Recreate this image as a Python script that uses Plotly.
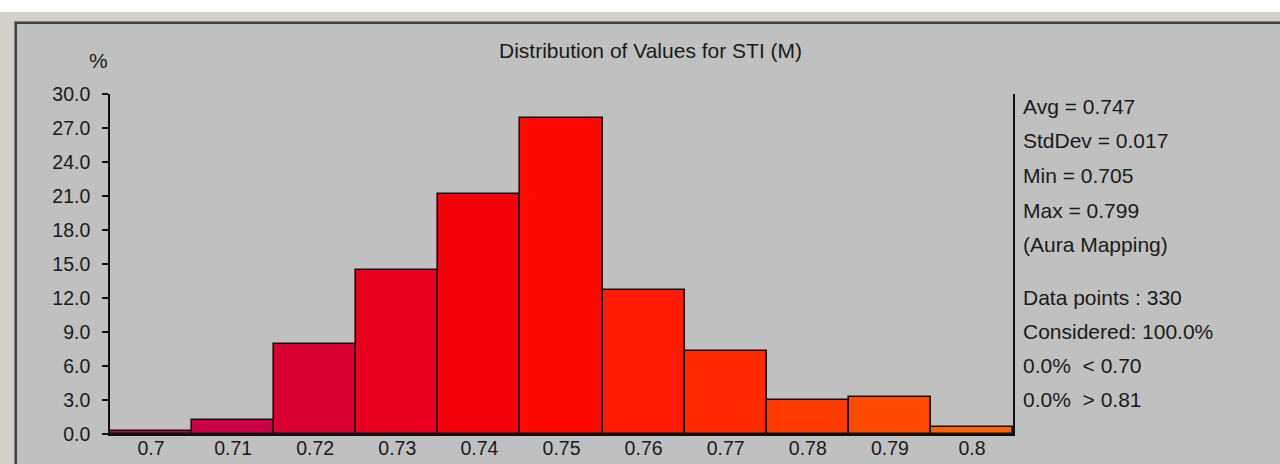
import plotly.graph_objects as go

# Histogram of STI (M) values, percentage of points per 0.01-wide bin
bin_centers = [0.70, 0.71, 0.72, 0.73, 0.74, 0.75, 0.76, 0.77, 0.78, 0.79, 0.80]
bin_labels = ["0.7", "0.71", "0.72", "0.73", "0.74", "0.75", "0.76", "0.77", "0.78", "0.79", "0.8"]
percent = [0.3, 1.2, 7.9, 14.5, 21.2, 27.9, 12.7, 7.3, 3.0, 3.3, 0.6]
bar_colors = ["#c3004e", "#cc0044", "#d80030", "#e8001e", "#f50008", "#ff0800",
              "#ff1c00", "#ff2a00", "#ff3a00", "#ff4a00", "#ff6200"]

y_ticks = [0, 3, 6, 9, 12, 15, 18, 21, 24, 27, 30]

stats_top = ["Avg = 0.747", "StdDev = 0.017", "Min = 0.705", "Max = 0.799", "(Aura Mapping)"]
stats_bottom = ["Data points : 330", "Considered: 100.0%", "0.0%  < 0.70", "0.0%  > 0.81"]

W, H = 1280, 464
L, R, T, B = 110, 267, 94, 30
PW, PH = W - L - R, H - T - B

FONT = "Liberation Sans"
INK = "#1a1a1a"
TEXT_SIZE = 21
TICK_SIZE = 19.5


def px(x):
    return (x - L) / PW


def py(y):
    return (H - B - y) / PH


def panel_rect(x0, x1, y0, y1, color):
    return dict(type="rect", xref="paper", yref="paper",
                x0=px(x0), x1=px(x1), y0=py(y0), y1=py(y1),
                fillcolor=color, line_width=0, layer="below")


fig = go.Figure(go.Bar(
    x=bin_centers,
    y=percent,
    width=0.01,
    marker=dict(color=bar_colors, line=dict(color="#111111", width=1.6)),
    hoverinfo="x+y",
))

# window chrome: white strip, beige frame, dark inner border
shapes = [
    panel_rect(0, W, 0, 12, "#ffffff"),
    panel_rect(0, W, 12, 21, "#d4d0c8"),
    panel_rect(0, 14, 12, H, "#d4d0c8"),
    panel_rect(14, W, 21, 22, "#808080"),
    panel_rect(14, W, 22, 24, "#404040"),
    panel_rect(14, 15, 21, H, "#808080"),
    panel_rect(15, 17, 22, H, "#404040"),
]

annotations = [
    dict(text="Distribution of Values for STI (M)", x=px(650), y=py(50), xref="paper", yref="paper",
         showarrow=False, xanchor="center", yanchor="middle",
         font=dict(size=TEXT_SIZE, color=INK, family=FONT)),
    dict(text="%", x=px(98), y=py(61), xref="paper", yref="paper",
         showarrow=False, xanchor="center", yanchor="middle",
         font=dict(size=TEXT_SIZE, color=INK, family=FONT)),
]
for i, s in enumerate(stats_top):
    annotations.append(dict(text=s, x=px(1021), y=py(106 + 34.7 * i), xref="paper", yref="paper",
                            showarrow=False, xanchor="left", yanchor="middle",
                            font=dict(size=TEXT_SIZE, color=INK, family=FONT)))
for i, s in enumerate(stats_bottom):
    annotations.append(dict(text=s, x=px(1021), y=py(297 + 34.2 * i), xref="paper", yref="paper",
                            showarrow=False, xanchor="left", yanchor="middle",
                            font=dict(size=TEXT_SIZE, color=INK, family=FONT)))

fig.update_layout(
    width=W, height=H,
    margin=dict(l=L, r=R, t=T, b=B, pad=0, autoexpand=False),
    paper_bgcolor="#c0c0c0",
    plot_bgcolor="#c0c0c0",
    showlegend=False,
    bargap=0,
    shapes=shapes,
    annotations=annotations,
    font=dict(family=FONT, size=TICK_SIZE, color=INK),
    xaxis=dict(
        range=[0.695, 0.805],
        tickvals=bin_centers,
        ticktext=bin_labels,
        ticks="",
        showgrid=False,
        zeroline=False,
        showline=True,
        linecolor="#111111",
        linewidth=1.6,
        automargin=False,
        ticklabelstandoff=-4,
        tickfont=dict(size=TICK_SIZE, color=INK, family=FONT),
    ),
    yaxis=dict(
        range=[0, 30],
        tickvals=y_ticks,
        tickformat=".1f",
        ticks="outside",
        ticklen=6,
        tickwidth=1.6,
        tickcolor="#111111",
        showgrid=False,
        zeroline=False,
        showline=True,
        mirror=True,
        linecolor="#111111",
        linewidth=1.6,
        automargin=False,
        ticklabelstandoff=8,
        tickfont=dict(size=TICK_SIZE, color=INK, family=FONT),
    ),
)

fig.write_html("out.html")
